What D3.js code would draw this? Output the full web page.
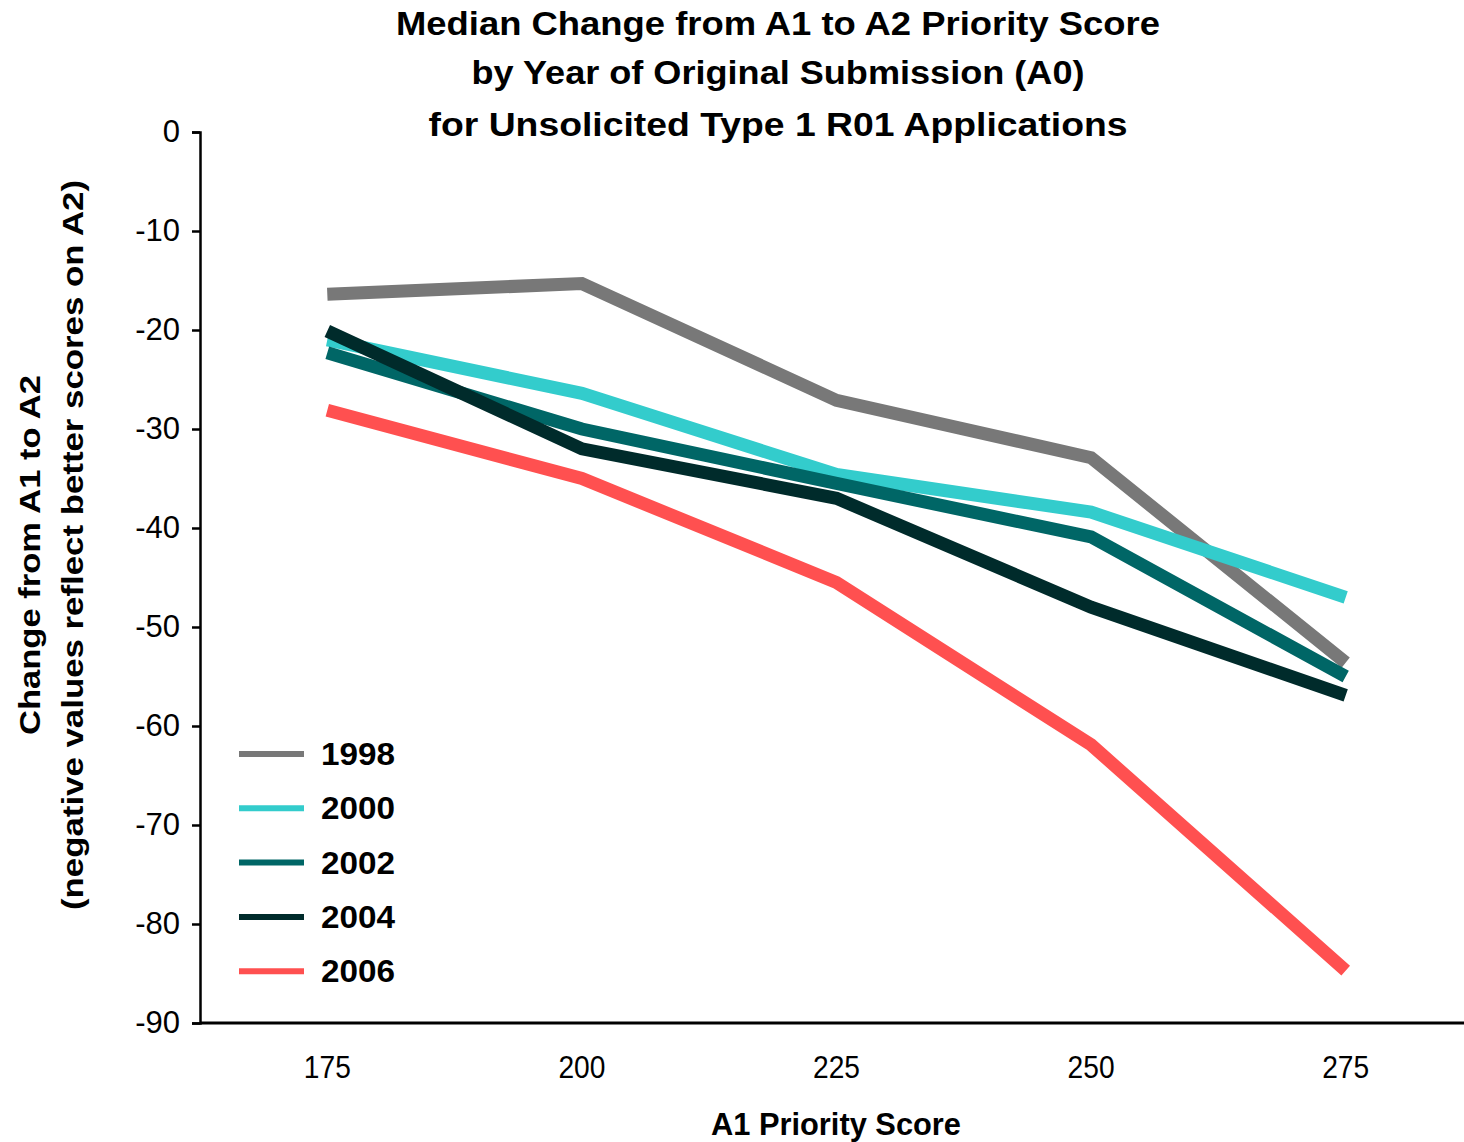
<!DOCTYPE html>
<html><head><meta charset="utf-8">
<script src="https://cdn.jsdelivr.net/npm/d3@7"></script>
<style>body{margin:0;background:#fff}svg{display:block}text{font-family:"Liberation Sans",Arial,sans-serif}</style>
</head><body>
<svg id="c" width="1464" height="1142"></svg>
<script>
const categories = ["175","200","225","250","275"];
const seriesNames = ["1998","2000","2002","2004","2006"];
const v1998 = [-16.4,-15.3,-27.1,-32.9,-53.6];
const v2000 = [-21.0,-26.4,-34.6,-38.4,-47.0];
const v2002 = [-22.3,-30.0,-35.5,-40.9,-55.0];
const v2004 = [-20.1,-32.0,-37.0,-48.0,-56.9];
const v2006 = [-28.1,-35.0,-45.5,-61.9,-84.7];
const colors = ["#787878","#33CCCC","#006666","#002B2B","#FF5050"];
const yTicks = [0,-10,-20,-30,-40,-50,-60,-70,-80,-90];
const titleLines = ["Median Change from A1 to A2 Priority Score","by Year of Original Submission (A0)","for Unsolicited Type 1 R01 Applications"];
const series = [v1998,v2000,v2002,v2004,v2006];

const svg = d3.select("#c");
const x = d3.scaleBand().domain(categories).range([200,1473]);
const xc = c => x(c) + x.bandwidth()/2;
const y = d3.scaleLinear().domain([-90,0]).range([1023,132]);

// title
const tl = [764,613,699];
svg.append("g").selectAll("text").data(titleLines).join("text")
  .attr("x",778).attr("y",(d,i)=>[35,84,136][i]).attr("text-anchor","middle")
  .attr("font-size",33).attr("font-weight","bold")
  .attr("textLength",(d,i)=>tl[i]).attr("lengthAdjust","spacingAndGlyphs").text(d=>d);

// y axis
const ya = svg.append("g").attr("transform","translate(200,0)")
  .call(d3.axisLeft(y).tickValues(yTicks).tickSize(8).tickPadding(12).tickFormat(d3.format("d")));
ya.select(".domain").attr("stroke","#000").attr("stroke-width",2.5);
ya.selectAll(".tick line").attr("stroke","#000").attr("stroke-width",2.5);
ya.selectAll(".tick text").attr("font-size",31).attr("fill","#000")
  .attr("font-family","Liberation Sans, Arial, sans-serif").text(d=>d===0?"0":"-"+Math.abs(d));

// x axis
const xa = svg.append("g").attr("transform","translate(0,1023)")
  .call(d3.axisBottom(x).tickSize(0).tickPadding(32));
xa.select(".domain").attr("stroke","#000").attr("stroke-width",3).attr("d","M200,0H1464");
xa.selectAll(".tick text").attr("font-size",32).attr("fill","#000")
  .attr("font-family","Liberation Sans, Arial, sans-serif").attr("textLength",47).attr("lengthAdjust","spacingAndGlyphs");

// axis titles
svg.append("text").attr("x",836).attr("y",1135).attr("text-anchor","middle")
  .attr("font-size",32).attr("font-weight","bold").attr("textLength",250).attr("lengthAdjust","spacingAndGlyphs")
  .text("A1 Priority Score");
const yt = svg.append("text").attr("transform","translate(0,550) rotate(-90)").attr("text-anchor","middle")
  .attr("font-size",30).attr("font-weight","bold");
yt.append("tspan").attr("x",-5).attr("y",40).attr("textLength",360).attr("lengthAdjust","spacingAndGlyphs").text("Change from A1 to A2");
yt.append("tspan").attr("x",5).attr("y",83).attr("textLength",730).attr("lengthAdjust","spacingAndGlyphs").text("(negative values reflect better scores on A2)");

// lines
const line = d3.line().x((d,i)=>xc(categories[i])).y(d=>y(d));
svg.append("g").selectAll("path").data(series).join("path")
  .attr("d",d=>line(d)).attr("fill","none").attr("stroke",(d,i)=>colors[i])
  .attr("stroke-width",13).attr("stroke-linejoin","miter").attr("stroke-linecap","butt");

// legend
const lg = svg.append("g").selectAll("g").data(seriesNames).join("g")
  .attr("transform",(d,i)=>`translate(0,${754+i*54.3})`);
lg.append("line").attr("x1",239).attr("x2",304).attr("y1",0).attr("y2",0)
  .attr("stroke",(d,i)=>colors[i]).attr("stroke-width",6);
lg.append("text").attr("x",321).attr("y",11).attr("font-size",31).attr("font-weight","bold")
  .attr("textLength",74).attr("lengthAdjust","spacingAndGlyphs").text(d=>d);
</script>
</body></html>
